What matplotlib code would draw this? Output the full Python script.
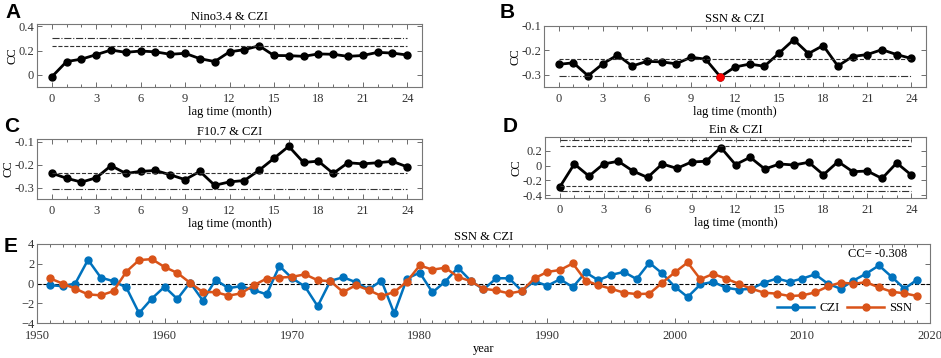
import matplotlib
matplotlib.use('Agg')
import matplotlib.pyplot as plt
from matplotlib.ticker import MultipleLocator

# donnees
lags = list(range(25))
nino_cc = [-0.016, 0.11, 0.13, 0.167, 0.205, 0.186, 0.197, 0.19, 0.17, 0.178, 0.134, 0.11, 0.19,
           0.208, 0.24, 0.16, 0.159, 0.153, 0.173, 0.17, 0.153, 0.16, 0.186, 0.18, 0.164]
ssn_cc = [-0.257, -0.251, -0.304, -0.255, -0.219, -0.264, -0.245, -0.247, -0.255, -0.228, -0.236,
          -0.308, -0.268, -0.256, -0.265, -0.211, -0.156, -0.213, -0.18, -0.264, -0.225, -0.217,
          -0.197, -0.217, -0.233]
f107_cc = [-0.237, -0.259, -0.276, -0.257, -0.204, -0.238, -0.229, -0.225, -0.244, -0.265, -0.229,
           -0.29, -0.275, -0.269, -0.224, -0.172, -0.119, -0.19, -0.184, -0.238, -0.191, -0.196,
           -0.191, -0.185, -0.209]
ein_cc = [-0.293, 0.023, -0.142, 0.023, 0.06, -0.073, -0.16, 0.023, -0.037, 0.05, 0.06, 0.247,
          0.014, 0.114, -0.046, 0.023, 0.009, 0.046, -0.124, 0.055, -0.082, -0.073, -0.174, 0.037,
          -0.128]
sig95 = 0.235
sig99 = 0.305
ein_sig95 = 0.27
ein_sig99 = 0.35
best_lag = 11

years = list(range(1951, 2020))
czi = [-0.17, -0.27, 0.0, 2.4, 0.6, 0.23, -0.4, -3.0, -1.53, -0.33,
       -1.57, 0.1, -1.73, 0.37, -0.47, -0.27, -0.67, -1.1, 1.77, 0.53,
       -0.3, -2.3, 0.27, 0.63, 0.13, -0.6, 0.3, -3.03, 0.5, 1.1,
       -0.9, 0.2, 1.6, 0.27, -0.6, 0.53, 0.53, -0.73, 0.23, -0.23,
       0.43, -0.37, 1.13, 0.33, 0.87, 1.17, 0.45, 2.1, 1.03, -0.33,
       -1.37, -0.1, 0.17, -0.43, -0.63, -0.53, 0.1, 0.5, 0.17, 0.5,
       0.93, -0.03, -0.53, 0.3, 1.0, 1.83, 0.67, -0.53, 0.4]
ssn = [0.53, 0.0, -0.53, -1.1, -1.2, -0.77, 1.2, 2.37, 2.47, 1.67,
       1.07, 0.07, -0.87, -0.87, -1.23, -1.0, -0.17, 0.5, 0.6, 0.67,
       0.93, 0.33, 0.23, -0.87, -0.17, -0.67, -1.27, -0.87, 0.2, 1.83,
       1.4, 1.6, 0.67, 0.23, -0.53, -0.7, -1.0, -0.77, 0.53, 1.17,
       1.37, 2.03, 0.3, -0.17, -0.53, -0.93, -1.07, -1.03, 0.07, 1.13,
       2.13, 0.43, 0.97, 0.5, -0.03, -0.53, -0.93, -1.03, -1.27, -1.2,
       -0.9, -0.3, 0.1, -0.03, 0.13, -0.4, -0.83, -1.0, -1.27]
cc_text = 'CC= -0.308'

W, H = 941, 358
SERIF = 'Liberation Serif'
BLUE = '#0072BD'
ORANGE = '#D95319'

fig = plt.figure(figsize=(W / 100, H / 100), dpi=100)


def px_axes(left, top, right, bottom):  # axes placees en pixels
    return fig.add_axes([left / W, 1 - bottom / H, (right - left) / W, (bottom - top) / H])


def style(ax):  # style a la matlab
    for s in ax.spines.values():
        s.set_color('#777777')
        s.set_linewidth(0.8)
    ax.tick_params(which='both', direction='in', top=True, right=True, colors='#555555',
                   labelsize=9, labelcolor='#333333', width=0.6)
    ax.tick_params(which='major', length=3.5)
    ax.tick_params(which='minor', length=2)
    ax.tick_params(axis='y', pad=2)
    ax.tick_params(axis='x', pad=4)
    for lab in ax.get_xticklabels() + ax.get_yticklabels():
        lab.set_family(SERIF)


def lag_panel(ax, vals, title, ylim, yticks, lines):
    ax.plot(lags, vals, '-o', color='black', lw=2, ms=5)
    for v, ls in lines:
        ax.plot([lags[0], lags[-1]], [v, v], ls, color='#333333', lw=0.8)
    ax.set_xlim(-1, 25)
    ax.set_ylim(*ylim)
    ax.set_xticks(range(0, 25, 3))
    ax.xaxis.set_minor_locator(MultipleLocator(1))
    ax.set_yticks(yticks)
    ax.set_yticklabels([f'{t:g}' for t in yticks])
    ax.set_title(title, family=SERIF, fontsize=9, pad=3)
    ax.set_xlabel('lag time (month)', family=SERIF, fontsize=9, labelpad=1)
    ax.set_ylabel('CC', family=SERIF, fontsize=9, labelpad=0)
    style(ax)


axA = px_axes(37, 24, 422, 87)
lag_panel(axA, nino_cc, 'Nino3.4 & CZI', (-0.1, 0.42), [0, 0.2, 0.4],
          [(sig95, '--'), (sig99, '-.')])

axB = px_axes(544, 26, 926, 87)
lag_panel(axB, ssn_cc, 'SSN & CZI', (-0.35, -0.1), [-0.3, -0.2, -0.1],
          [(-sig95, '--'), (-sig99, '-.')])
axB.plot(lags[best_lag], ssn_cc[best_lag], 'o', color='red', ms=5, zorder=5)

axC = px_axes(37, 139, 422, 199)
lag_panel(axC, f107_cc, 'F10.7 & CZI', (-0.35, -0.087), [-0.3, -0.2, -0.1],
          [(-sig95, '--'), (-sig99, '-.')])

axD = px_axes(545, 137, 926, 198)
lag_panel(axD, ein_cc, 'Ein & CZI', (-0.44, 0.39), [-0.4, -0.2, 0, 0.2],
          [(ein_sig95, '--'), (ein_sig99, '-.'), (-ein_sig95, '--'), (-ein_sig99, '-.')])

axE = px_axes(37, 244, 930, 323)
axE.axhline(0, color='black', ls='--', lw=0.8)
axE.plot(years, czi, '-o', color=BLUE, lw=1.8, ms=5, label='CZI')
axE.plot(years, ssn, '-o', color=ORANGE, lw=1.8, ms=5, label='SSN')
axE.set_xlim(1950, 2020)
axE.set_ylim(-4, 4)
axE.set_xticks(range(1950, 2021, 10))
axE.xaxis.set_minor_locator(MultipleLocator(1))
axE.set_yticks([-4, -2, 0, 2, 4])
axE.set_title('SSN & CZI', family=SERIF, fontsize=9, pad=3)
axE.set_xlabel('year', family=SERIF, fontsize=9, labelpad=1)
style(axE)
axE.tick_params(axis='x', pad=5)
axE.text(907 / W, 1 - 254 / H, cc_text, transform=fig.transFigure, ha='right', va='center',
         family=SERIF, fontsize=9)
leg = axE.legend(ncol=2, loc='lower right', frameon=False, handlelength=3.0,
                 columnspacing=0.6, handletextpad=0.4, bbox_to_anchor=(0.993, -0.03),
                 prop={'family': SERIF, 'size': 9})

# lettres des panneaux
for lettre, x, y in [('A', 5, 12), ('B', 500, 13), ('C', 4, 126), ('D', 503, 126), ('E', 4, 246)]:
    fig.text(x / W, 1 - y / H, lettre, family='Liberation Sans', fontweight='bold',
             fontsize=15, va='center', ha='left')

fig.savefig('out.png', dpi=100)
